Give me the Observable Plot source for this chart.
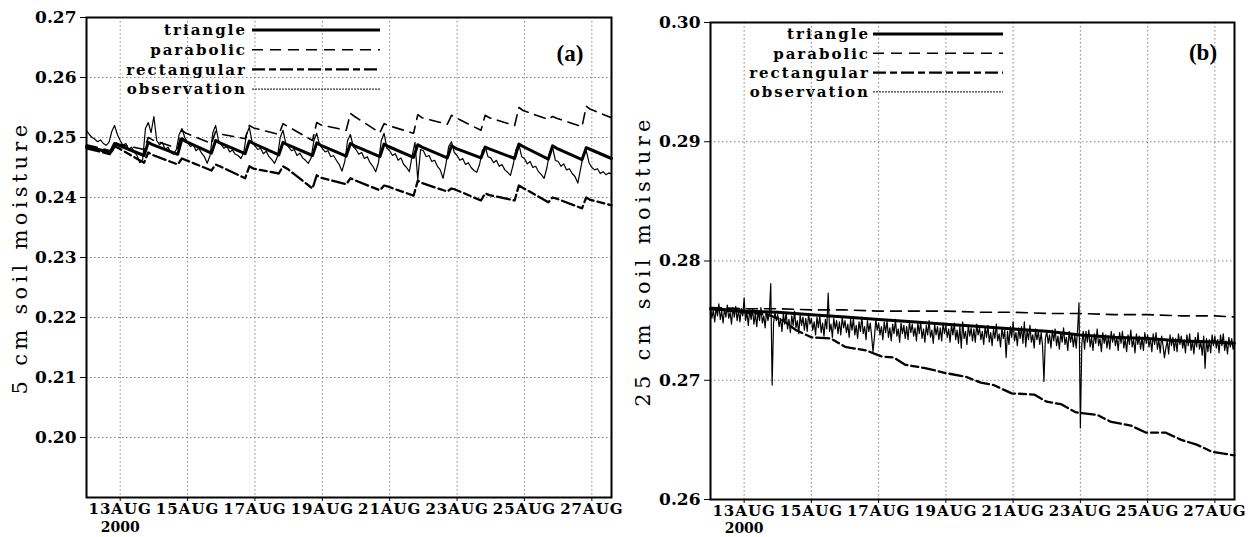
<!DOCTYPE html>
<html><head><meta charset="utf-8">
<script src="https://cdn.jsdelivr.net/npm/d3@7"></script>
<script src="https://cdn.jsdelivr.net/npm/@observablehq/plot@0.6"></script>
<style>
html,body{margin:0;padding:0;background:#fff;}
#wrap{position:relative;width:1252px;height:537px;overflow:hidden;background:#fff;}
.panel{position:absolute;top:0;width:626px;height:537px;}
.panel svg{position:absolute;left:0;top:0;overflow:visible;}
g[aria-label="y-axis label"] text{font-weight:normal;font-size:21px;letter-spacing:4.3px;}
g[aria-label="x-axis tick label"] text{letter-spacing:1px;}
</style></head>
<body><div id="wrap"><div class="panel" id="pa" style="left:0"></div><div class="panel" id="pb" style="left:626px"></div></div>
<script>
// ---------- categories / ticks ----------
const seriesNames = ["triangle", "parabolic", "rectangular", "observation"];
const tickDays = [13, 15, 17, 19, 21, 23, 25, 27];
const tickMonth = "AUG";
const yearLabel = "2000";
const yTicksA = [0.20, 0.21, 0.22, 0.23, 0.24, 0.25, 0.26, 0.27];
const yTicksB = [0.26, 0.27, 0.28, 0.29, 0.30];
const panelTags = ["(a)", "(b)"];
const yLabels = ["5 cm soil moisture", "25 cm soil moisture"];

// ---------- panel (a): 5 cm ----------
// model curves: hours since 12 AUG 2000 00Z
const sawHours = [0, 17,20,23, 41,44,47, 65,68,71, 89,92,95, 113,116,119, 137,140,143, 161,164,167, 185,188,191, 209,212,215, 233,236,239, 257,260,263, 281,284,287, 305,308,311, 329,332,335, 353,356,359, 374];
const triA = [0.2485, 0.2475,0.2490,0.2487, 0.2470,0.2492,0.2488, 0.2472,0.2498,0.2493, 0.2474,0.2495,0.2491, 0.2473,0.2494,0.2490, 0.2471,0.2492,0.2488, 0.2470,0.2491,0.2487, 0.2469,0.2490,0.2486, 0.2468,0.2489,0.2485, 0.2467,0.2488,0.2484, 0.2466,0.2486,0.2482, 0.2466,0.2484,0.2481, 0.2465,0.2489,0.2485, 0.2464,0.2486,0.2482, 0.2463,0.2483,0.2480, 0.2465];
const parA = [0.2488, 0.2478,0.2492,0.2489, 0.2480,0.2500,0.2496, 0.2482,0.2512,0.2507, 0.2490,0.2510,0.2506, 0.2498,0.2520,0.2516, 0.2505,0.2523,0.2519, 0.2495,0.2525,0.2521, 0.2512,0.2540,0.2535, 0.2508,0.2523,0.2520, 0.2507,0.2538,0.2533, 0.2522,0.2537,0.2533, 0.2512,0.2537,0.2533, 0.2520,0.2550,0.2545, 0.2530,0.2535,0.2532, 0.2518,0.2552,0.2547, 0.2533];
const rectA = [0.2482, 0.2472,0.2485,0.2482, 0.2458,0.2475,0.2471, 0.2455,0.2465,0.2462, 0.2445,0.2455,0.2452, 0.2432,0.2452,0.2448, 0.2440,0.2452,0.2448, 0.2415,0.2437,0.2433, 0.2422,0.2432,0.2429, 0.2412,0.2420,0.2418, 0.2403,0.2428,0.2424, 0.2410,0.2415,0.2413, 0.2395,0.2407,0.2404, 0.2395,0.2420,0.2416, 0.2392,0.2400,0.2398, 0.2382,0.2400,0.2396, 0.2387];
// observations every 2 h
const obsHoursA = d3.range(0, 375, 2);
const obsA = [
0.2512,0.2505,0.2500,0.2497,0.2493,0.2496,0.2490,0.2487,0.2492,0.2510,0.2520,0.2505,
0.2495,0.2487,0.2490,0.2480,0.2484,0.2476,0.2470,0.2458,0.2463,0.2515,0.2525,0.2508,
0.2535,0.2495,0.2488,0.2492,0.2480,0.2484,0.2475,0.2472,0.2480,0.2505,0.2515,0.2500,
0.2492,0.2485,0.2488,0.2478,0.2482,0.2474,0.2468,0.2457,0.2470,0.2508,0.2520,0.2495,
0.2488,0.2482,0.2485,0.2476,0.2479,0.2472,0.2470,0.2465,0.2475,0.2505,0.2517,0.2492,
0.2486,0.2480,0.2482,0.2473,0.2477,0.2468,0.2463,0.2457,0.2468,0.2500,0.2512,0.2490,
0.2484,0.2478,0.2480,0.2470,0.2474,0.2466,0.2462,0.2457,0.2466,0.2495,0.2507,0.2488,
0.2482,0.2476,0.2478,0.2468,0.2470,0.2462,0.2455,0.2444,0.2460,0.2495,0.2505,0.2485,
0.2480,0.2472,0.2475,0.2465,0.2468,0.2458,0.2452,0.2443,0.2458,0.2495,0.2507,0.2482,
0.2478,0.2470,0.2473,0.2462,0.2466,0.2455,0.2450,0.2443,0.2470,0.2492,0.2430,0.2480,
0.2478,0.2468,0.2470,0.2460,0.2462,0.2452,0.2446,0.2432,0.2455,0.2485,0.2493,0.2475,
0.2470,0.2462,0.2465,0.2455,0.2458,0.2450,0.2445,0.2442,0.2455,0.2478,0.2485,0.2468,
0.2466,0.2458,0.2462,0.2452,0.2455,0.2446,0.2442,0.2437,0.2455,0.2480,0.2489,0.2468,
0.2465,0.2456,0.2460,0.2450,0.2452,0.2443,0.2438,0.2432,0.2450,0.2476,0.2484,0.2462,
0.2460,0.2452,0.2456,0.2446,0.2448,0.2440,0.2435,0.2424,0.2448,0.2472,0.2478,0.2458,
0.2450,0.2446,0.2448,0.2440,0.2443,0.2438,0.2441,0.2439];

// ---------- panel (b): 25 cm ----------
const dayHours = [0,24,48,72,96,120,144,168,192,216,240,264,288,312,336,360,374];
const triB = [0.2760,0.2758,0.2757,0.2755,0.2753,0.2751,0.2749,0.2747,0.2745,0.2743,0.2741,0.2738,0.2736,0.2735,0.2733,0.2732,0.2731];
const parB = [0.2761,0.2760,0.2760,0.2759,0.2759,0.2758,0.2758,0.2758,0.2757,0.2757,0.2756,0.2756,0.2755,0.2755,0.2754,0.2754,0.2753];
const rectBHours = [0,24,41,52,61,72,86,96,111,122,131,139,154,168,182,193,202,215,231,240,250,261,276,286,300,311,325,336,347,358,374];
const rectB = [0.2760,0.2757,0.2755,0.2750,0.2742,0.2736,0.2735,0.2728,0.2725,0.2720,0.2719,0.2713,0.2710,0.2706,0.2703,0.2698,0.2696,0.2689,0.2688,0.2682,0.2680,0.2673,0.2671,0.2665,0.2662,0.2656,0.2656,0.2650,0.2646,0.2640,0.2637];
// hourly observations
const obsHoursB = d3.range(0, 375, 1);
const obsB = [
0.2762,0.2752,0.2759,0.2749,0.2761,0.2754,0.2764,0.2751,0.2758,0.2748,0.2760,0.2753,0.2763,0.2752,0.2757,0.2747,0.2761,0.2753,0.2762,0.2750,0.2759,0.2749,0.2760,0.2754,
0.2769,0.2750,0.2757,0.2746,0.2759,0.2751,0.2760,0.2747,0.2756,0.2745,0.2758,0.2750,0.2761,0.2748,0.2754,0.2744,0.2758,0.2750,0.2756,0.2781,0.2696,0.2748,0.2757,0.2750,
0.2755,0.2745,0.2752,0.2741,0.2756,0.2747,0.2757,0.2743,0.2751,0.2740,0.2754,0.2746,0.2758,0.2744,0.2750,0.2739,0.2755,0.2746,0.2753,0.2742,0.2752,0.2741,0.2756,0.2747,
0.2752,0.2742,0.2749,0.2738,0.2753,0.2744,0.2754,0.2740,0.2748,0.2737,0.2751,0.2743,0.2773,0.2741,0.2747,0.2736,0.2752,0.2743,0.2750,0.2739,0.2749,0.2738,0.2753,0.2744,
0.2750,0.2740,0.2747,0.2736,0.2751,0.2742,0.2752,0.2738,0.2746,0.2735,0.2749,0.2741,0.2753,0.2739,0.2745,0.2734,0.2750,0.2741,0.2748,0.2737,0.2724,0.2736,0.2751,0.2742,
0.2748,0.2738,0.2745,0.2734,0.2749,0.2740,0.2750,0.2736,0.2744,0.2733,0.2747,0.2739,0.2751,0.2737,0.2743,0.2732,0.2748,0.2739,0.2746,0.2735,0.2745,0.2734,0.2749,0.2740,
0.2747,0.2737,0.2744,0.2733,0.2748,0.2739,0.2749,0.2735,0.2743,0.2732,0.2746,0.2738,0.2750,0.2736,0.2742,0.2731,0.2747,0.2738,0.2745,0.2734,0.2744,0.2733,0.2748,0.2739,
0.2746,0.2736,0.2743,0.2732,0.2747,0.2738,0.2748,0.2734,0.2742,0.2731,0.2745,0.2727,0.2749,0.2735,0.2741,0.2730,0.2746,0.2737,0.2744,0.2733,0.2743,0.2732,0.2747,0.2738,
0.2744,0.2734,0.2741,0.2730,0.2745,0.2736,0.2746,0.2732,0.2740,0.2729,0.2743,0.2735,0.2747,0.2733,0.2739,0.2728,0.2744,0.2735,0.2742,0.2719,0.2741,0.2730,0.2745,0.2736,
0.2749,0.2733,0.2740,0.2729,0.2744,0.2735,0.2745,0.2731,0.2749,0.2728,0.2742,0.2734,0.2746,0.2732,0.2738,0.2727,0.2743,0.2734,0.2741,0.2730,0.2740,0.2729,0.2699,0.2735,
0.2741,0.2731,0.2738,0.2727,0.2742,0.2733,0.2743,0.2729,0.2737,0.2726,0.2740,0.2732,0.2744,0.2730,0.2736,0.2725,0.2741,0.2732,0.2739,0.2728,0.2738,0.2727,0.2742,0.2765,
0.2660,0.2730,0.2741,0.2726,0.2741,0.2732,0.2742,0.2728,0.2736,0.2725,0.2739,0.2731,0.2743,0.2729,0.2735,0.2724,0.2740,0.2731,0.2738,0.2727,0.2737,0.2726,0.2741,0.2732,
0.2739,0.2729,0.2736,0.2725,0.2740,0.2731,0.2741,0.2727,0.2735,0.2724,0.2738,0.2730,0.2742,0.2728,0.2734,0.2723,0.2739,0.2730,0.2737,0.2726,0.2736,0.2725,0.2740,0.2731,
0.2738,0.2728,0.2735,0.2724,0.2739,0.2730,0.2740,0.2726,0.2734,0.2723,0.2737,0.2729,0.2719,0.2727,0.2733,0.2722,0.2738,0.2729,0.2736,0.2725,0.2735,0.2724,0.2739,0.2730,
0.2737,0.2727,0.2734,0.2723,0.2738,0.2729,0.2739,0.2725,0.2733,0.2722,0.2736,0.2728,0.2740,0.2726,0.2732,0.2721,0.2737,0.2710,0.2735,0.2724,0.2734,0.2723,0.2738,0.2729,
0.2737,0.2727,0.2734,0.2723,0.2738,0.2729,0.2739,0.2725,0.2733,0.2722,0.2736,0.2728,0.2735,0.2726,0.2731];

// ---------- drawing ----------
const T0 = Date.UTC(2000, 7, 12);
const hourToDate = h => new Date(T0 + h * 3600000);
const rows = (hours, vals) => vals.map((v, i) => ({date: hourToDate(hours[i]), v}));
const xTickDates = tickDays.map(d => new Date(Date.UTC(2000, 7, d)));
const styles = {
  triangle: {strokeWidth: 3},
  parabolic: {strokeWidth: 1.6, strokeDasharray: "11,7"},
  rectangular: {strokeWidth: 2.3, strokeDasharray: "13,4,7,4"},
  observation: {strokeWidth: 1.2}
};
const gridStyle = {stroke: "#666", strokeOpacity: 1, strokeWidth: 0.8, strokeDasharray: "1.5,2.5"};

function drawPanel(el, cfg) {
  const chart = Plot.plot({
    width: 626, height: 537,
    marginLeft: cfg.ml, marginRight: cfg.mr, marginTop: cfg.mt, marginBottom: cfg.mb,
    x: {type: "utc", domain: [hourToDate(0), hourToDate(374)]},
    y: {domain: cfg.yDomain},
    style: {fontFamily: "DejaVu Serif", fontSize: "16px", fontWeight: "bold", color: "black", background: "transparent"},
    marks: [
      Plot.gridX(xTickDates, gridStyle),
      Plot.gridY(cfg.yTicks, gridStyle),
      Plot.line(rows(cfg.parH, cfg.par), {x: "date", y: "v", stroke: "black", ...styles.parabolic}),
      Plot.line(rows(cfg.rectH, cfg.rect), {x: "date", y: "v", stroke: "black", ...styles.rectangular}),
      Plot.line(rows(cfg.obsH, cfg.obs), {x: "date", y: "v", stroke: "black", ...styles.observation}),
      Plot.line(rows(cfg.triH, cfg.tri), {x: "date", y: "v", stroke: "black", ...styles.triangle}),
      Plot.frame({stroke: "black", strokeWidth: 2}),
      Plot.axisY(cfg.yTicks, {tickFormat: d3.format(".2f"), tickSize: 6, tickPadding: 4, fontSize: 17, label: cfg.ylabel, labelAnchor: "center", labelOffset: cfg.lo, labelArrow: false}),
      Plot.axisX(xTickDates, {tickFormat: d => d.getUTCDate() + tickMonth, tickSize: 4, tickPadding: 2, fontSize: 15, label: null}),
      Plot.text([yearLabel], {x: () => xTickDates[0], frameAnchor: "bottom", lineAnchor: "middle", dy: cfg.yearDy, fontSize: 14, text: d => d})
    ]
  });
  el.appendChild(chart);
  // legend + panel tag overlay
  const svg = d3.select(el).append("svg").attr("width", 626).attr("height", 537)
    .style("pointer-events", "none");
  const lg = cfg.legend;
  seriesNames.forEach((name, i) => {
    const y = lg.y0 + i * lg.dy;
    svg.append("text").attr("x", lg.tx).attr("y", y).attr("dy", "0.35em")
      .attr("text-anchor", "end").attr("font-family", "DejaVu Serif").attr("font-weight", "bold")
      .attr("font-size", 15).attr("letter-spacing", "2px").text(name);
    const st = name === "observation" ? {strokeWidth: 1, strokeDasharray: "2,1"} : styles[name];
    svg.append("line").attr("x1", lg.x1).attr("x2", lg.x2).attr("y1", y).attr("y2", y)
      .attr("stroke", "black").attr("stroke-width", st.strokeWidth)
      .attr("stroke-dasharray", st.strokeDasharray || null);
  });
  svg.append("text").attr("x", cfg.tag.x).attr("y", cfg.tag.y).attr("text-anchor", "middle")
    .attr("font-family", "Liberation Serif").attr("font-weight", "bold").attr("font-size", 23)
    .text(cfg.tag.text);
}

drawPanel(document.getElementById("pa"), {
  ml: 86, mr: 15, mt: 17, mb: 40, yDomain: [0.19, 0.27], yTicks: yTicksA,
  ylabel: yLabels[0], lo: 74, yearDy: 30.5,
  triH: sawHours, tri: triA, parH: sawHours, par: parA, rectH: sawHours, rect: rectA,
  obsH: obsHoursA, obs: obsA,
  legend: {tx: 247, x1: 252, x2: 380, y0: 30, dy: 19.7},
  tag: {x: 570, y: 61, text: panelTags[0]}
});
drawPanel(document.getElementById("pb"), {
  ml: 84, mr: 18, mt: 22, mb: 38, yDomain: [0.26, 0.30], yTicks: yTicksB,
  ylabel: yLabels[1], lo: 75, yearDy: 29.5,
  triH: dayHours, tri: triB, parH: dayHours, par: parB, rectH: rectBHours, rect: rectB,
  obsH: obsHoursB, obs: obsB,
  legend: {tx: 244, x1: 247, x2: 377, y0: 34, dy: 19.3},
  tag: {x: 577, y: 60, text: panelTags[1]}
});
</script>
</body></html>
